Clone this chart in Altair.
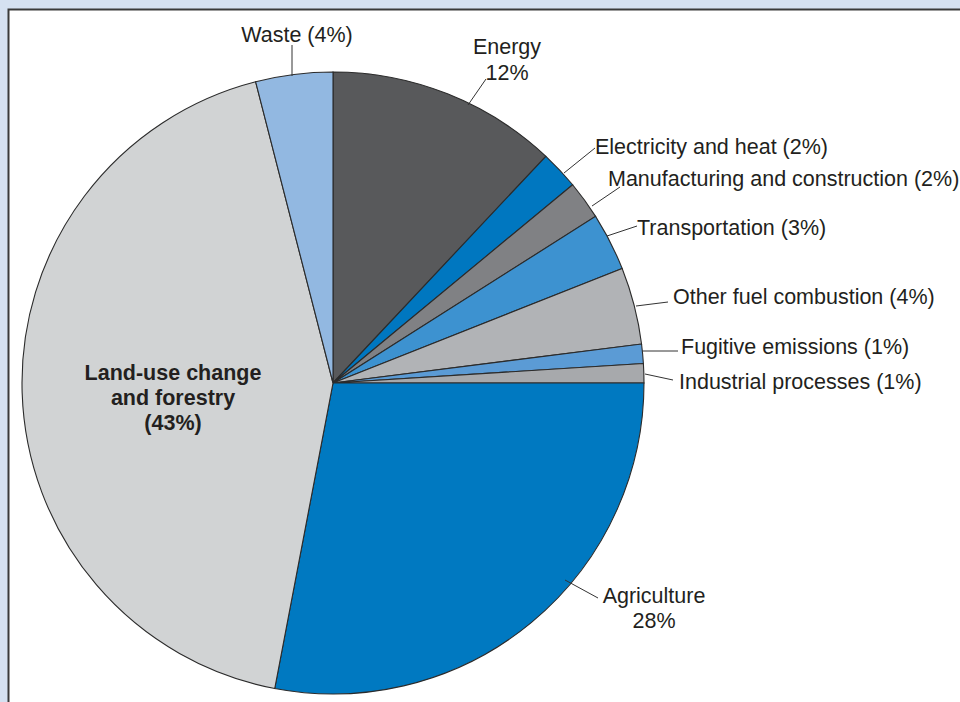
import altair as alt
import pandas as pd

# Emission sources, clockwise from 12 o'clock
sectors = [
    "Energy", "Electricity and heat", "Manufacturing and construction",
    "Transportation", "Other fuel combustion", "Fugitive emissions",
    "Industrial processes", "Agriculture", "Land-use change and forestry", "Waste",
]
shares = [12, 2, 2, 3, 4, 1, 1, 28, 43, 4]
colors = [
    "#58595b", "#0077c0", "#808184", "#3d92d0", "#b1b3b6",
    "#5b9bd5", "#a7a9ac", "#0079c1", "#d1d3d4", "#92b8e1",
]

# Label text lines (one entry per drawn line)
label_lines = [
    "Waste (4%)", "Energy", "12%", "Electricity and heat (2%)",
    "Manufacturing and construction (2%)", "Transportation (3%)",
    "Other fuel combustion (4%)", "Fugitive emissions (1%)",
    "Industrial processes (1%)", "Agriculture", "28%",
]
bold_lines = ["Land-use change", "and forestry", "(43%)"]

# --- layout (pixels) ---
W, H = 960, 702
CX, CY, R = 333, 383, 311
FONT = "Liberation Sans"
FS = 21.5
INK = "#231f20"

label_x = [297, 507, 507, 595, 608, 637, 673, 681, 679, 654, 654]
label_y = [42, 54, 80, 154, 186, 235, 304, 354, 389, 603, 628]
label_align = ["center", "center", "center", "left", "left", "left",
               "left", "left", "left", "center", "center"]
bold_x = [173, 173, 173]
bold_y = [380, 405, 430]

leader_x = [292, 468, 564, 592, 607, 636, 642, 645, 565]
leader_y = [76, 105, 173, 206, 236, 306, 351, 374, 580]
leader_x2 = [292, 486, 595, 620, 637, 668, 678, 673, 598]
leader_y2 = [45, 79, 148, 187, 226, 302, 351, 380, 598]

pie_df = pd.DataFrame({
    "sector": sectors,
    "share": shares,
    "order": list(range(len(sectors))),
})
labels_df = pd.DataFrame({"text": label_lines, "x": label_x, "y": label_y, "align": label_align})
bold_df = pd.DataFrame({"text": bold_lines, "x": bold_x, "y": bold_y})
leaders_df = pd.DataFrame({"x": leader_x, "y": leader_y, "x2": leader_x2, "y2": leader_y2})
panel_df = pd.DataFrame({"k": [0]})

px = lambda f: alt.X(f, type="quantitative", scale=None, axis=None)
py = lambda f: alt.Y(f, type="quantitative", scale=None, axis=None)

# White framed panel on the light-blue page
panel = alt.Chart(panel_df).mark_rect(
    fill="white", stroke="#3a3a3a", strokeWidth=2
).encode(
    x=alt.value(8.5), y=alt.value(9.5), x2=alt.value(W + 20), y2=alt.value(H + 20)
)

pie = alt.Chart(pie_df).mark_arc(
    radius=R, stroke="#2b2b2b", strokeWidth=1.1
).encode(
    theta=alt.Theta("share:Q", stack=True),
    order=alt.Order("order:Q", sort="ascending"),
    color=alt.Color("sector:N", scale=alt.Scale(domain=sectors, range=colors), legend=None),
    x=alt.value(CX),
    y=alt.value(CY),
)

leaders = alt.Chart(leaders_df).mark_rule(color="#333333", strokeWidth=1).encode(
    x=px("x"), y=py("y"), x2="x2:Q", y2="y2:Q"
)

text_center = alt.Chart(labels_df).transform_filter(
    alt.datum.align == "center"
).mark_text(font=FONT, fontSize=FS, color=INK, align="center", baseline="alphabetic").encode(
    x=px("x"), y=py("y"), text="text:N"
)
text_left = alt.Chart(labels_df).transform_filter(
    alt.datum.align == "left"
).mark_text(font=FONT, fontSize=FS, color=INK, align="left", baseline="alphabetic").encode(
    x=px("x"), y=py("y"), text="text:N"
)
text_bold = alt.Chart(bold_df).mark_text(
    font=FONT, fontSize=FS, fontWeight="bold", color=INK, align="center", baseline="alphabetic"
).encode(x=px("x"), y=py("y"), text="text:N")

chart = alt.layer(
    panel, pie, leaders, text_center, text_left, text_bold
).properties(
    width=W, height=H, padding=0, autosize=alt.AutoSizeParams(type="none"),
    background="#d5e1f1",
).configure_view(stroke=None, clip=False)

chart.save("out.html", embed_options={"renderer": "svg", "actions": False})
